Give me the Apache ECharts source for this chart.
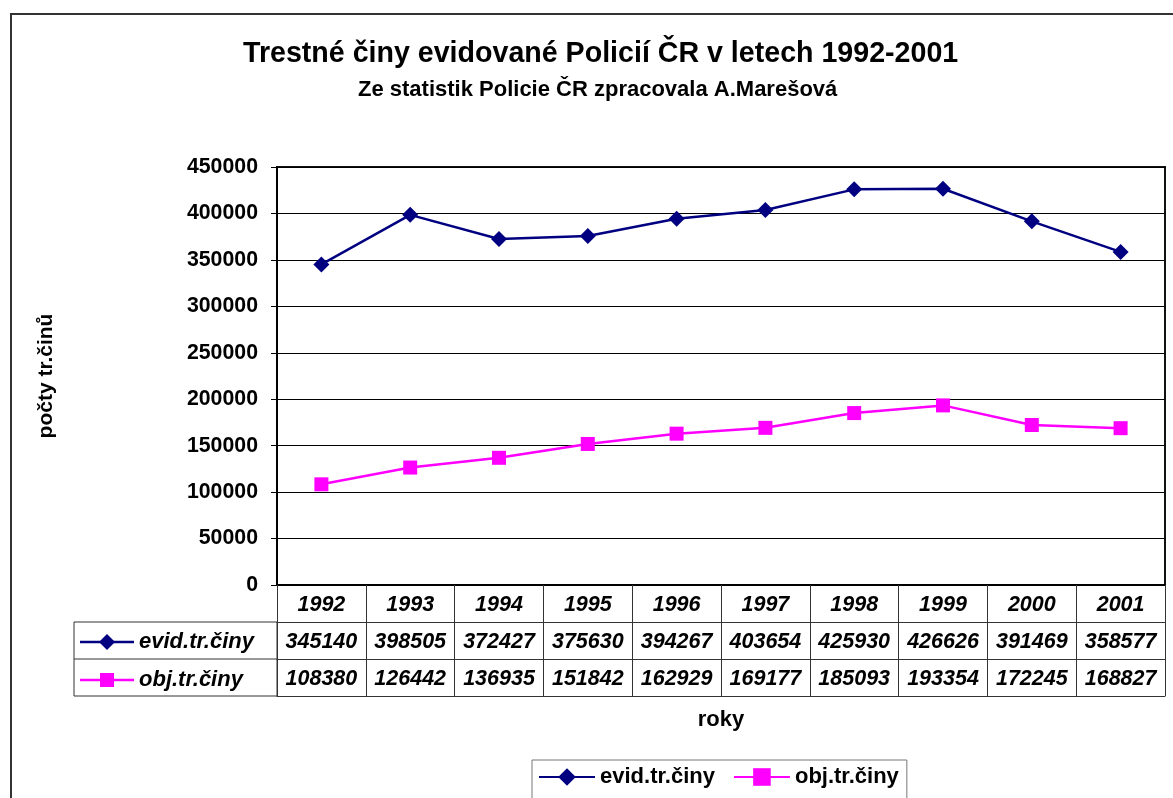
<!DOCTYPE html>
<html>
<head>
<meta charset="utf-8">
<script src="https://cdn.jsdelivr.net/npm/echarts@6/dist/echarts.min.js"></script>
<style>
	html, body { margin: 0; padding: 0; background: #fff; }
	#chart { width: 1173px; height: 798px; }
</style>
</head>
<body>
<div id="chart"></div>
<script>
	// roky a hodnoty z tabulky pod grafem
	const years = ['1992', '1993', '1994', '1995', '1996', '1997', '1998', '1999', '2000', '2001'];
	const evid = [345140, 398505, 372427, 375630, 394267, 403654, 425930, 426626, 391469, 358577];
	const obj = [108380, 126442, 136935, 151842, 162929, 169177, 185093, 193354, 172245, 168827];
	const seriesNames = ['evid.tr.činy', 'obj.tr.činy'];
	const colors = ['#000080', '#ff00ff'];

	const font = '"Liberation Sans", Arial, sans-serif';
	const rowH = 37;

	// jedna osa = jeden radek tabulky
	function tableAxis(data, offset, lineColor, lineWidth) {
		return {
			type: 'category',
			position: 'bottom',
			offset: offset,
			data: data,
			boundaryGap: true,
			axisLine: { show: true, lineStyle: { color: lineColor, width: lineWidth } },
			axisTick: { show: true, inside: false, length: rowH, interval: 0, lineStyle: { color: '#333', width: 1 } },
			axisLabel: {
				show: true, interval: 0, margin: 9,
				fontFamily: font, fontSize: 21.5, fontWeight: 'bold', fontStyle: 'italic', color: '#000'
			},
			splitLine: { show: false }
		};
	}

	const chart = echarts.init(document.getElementById('chart'));

	const option = {
		animation: false,
		title: [{
			text: 'Trestné činy evidované Policií ČR v letech 1992-2001',
			left: 238, top: 35,
			textStyle: { fontFamily: font, fontSize: 28.6, fontWeight: 'bold', color: '#000' }
		}, {
			text: 'Ze statistik Policie ČR zpracovala A.Marešová',
			left: 353, top: 74,
			textStyle: { fontFamily: font, fontSize: 22, fontWeight: 'bold', color: '#000' }
		}],
		legend: {
			left: 532, top: 760,
			data: seriesNames,
			itemWidth: 56, itemHeight: 22, itemGap: 18,
			padding: [6, 8, 20, 6],
			borderColor: '#777', borderWidth: 1,
			textStyle: { fontFamily: font, fontSize: 22, fontWeight: 'bold', color: '#000' }
		},
		grid: {
			left: 277, right: 8, top: 167, bottom: 213,
			show: true, borderColor: '#111', borderWidth: 2
		},
		xAxis: [
			tableAxis(years, 0, '#000', 2),
			tableAxis(evid.map(String), rowH, '#333', 1),
			tableAxis(obj.map(String), rowH * 2, '#333', 1),
			{
				type: 'category', position: 'bottom', offset: rowH * 3,
				data: years,
				axisLine: { show: true, lineStyle: { color: '#333', width: 1 } },
				axisTick: { show: false }, axisLabel: { show: false },
				name: 'roky', nameLocation: 'middle', nameGap: 13,
				nameTextStyle: { fontFamily: font, fontSize: 22, fontWeight: 'bold', color: '#000' }
			}
		],
		yAxis: {
			type: 'value',
			min: 0, max: 450000, interval: 50000,
			axisLine: { show: true, lineStyle: { color: '#000', width: 2 } },
			axisTick: { show: true, length: 6, lineStyle: { color: '#000' } },
			axisLabel: {
				margin: 19, fontFamily: font, fontSize: 21.3, fontWeight: 'bold', color: '#000',
				formatter: v => String(v)
			},
			splitLine: { show: true, lineStyle: { color: '#000', width: 1 } },
			name: 'počty tr.činů', nameLocation: 'middle', nameGap: 220, nameRotate: 90,
			nameTextStyle: { fontFamily: font, fontSize: 21, fontWeight: 'bold', color: '#000' }
		},
		series: [{
			name: seriesNames[0],
			type: 'line',
			data: evid,
			color: colors[0],
			symbol: 'diamond', symbolSize: 16,
			lineStyle: { width: 2.5 }
		}, {
			name: seriesNames[1],
			type: 'line',
			data: obj,
			color: colors[1],
			symbol: 'rect', symbolSize: 14,
			lineStyle: { width: 2.5 }
		}],
		graphic: [
			// vnejsi ramecek
			{ type: 'rect', shape: { x: 11, y: 14, width: 1200, height: 820 }, style: { fill: 'none', stroke: '#333', lineWidth: 2 } },
			// levy sloupec tabulky
			{ type: 'line', shape: { x1: 74, y1: 622, x2: 277, y2: 622 }, style: { stroke: '#333', lineWidth: 1 } },
			{ type: 'line', shape: { x1: 74, y1: 659, x2: 277, y2: 659 }, style: { stroke: '#333', lineWidth: 1 } },
			{ type: 'line', shape: { x1: 74, y1: 696, x2: 277, y2: 696 }, style: { stroke: '#333', lineWidth: 1 } },
			{ type: 'line', shape: { x1: 74, y1: 622, x2: 74, y2: 696 }, style: { stroke: '#333', lineWidth: 1 } },
			{ type: 'line', shape: { x1: 277, y1: 622, x2: 277, y2: 696 }, style: { stroke: '#333', lineWidth: 1 } },
			// klic radku evid
			{ type: 'line', shape: { x1: 80, y1: 642, x2: 134, y2: 642 }, style: { stroke: colors[0], lineWidth: 2.5 } },
			{ type: 'polygon', shape: { points: [[107, 634], [115, 642], [107, 650], [99, 642]] }, style: { fill: colors[0] } },
			{ type: 'text', left: 139, top: 631, style: { text: seriesNames[0], font: 'italic bold 22px ' + font, fill: '#000' } },
			// klic radku obj
			{ type: 'line', shape: { x1: 80, y1: 680, x2: 134, y2: 680 }, style: { stroke: colors[1], lineWidth: 2.5 } },
			{ type: 'rect', shape: { x: 100, y: 673, width: 14, height: 14 }, style: { fill: colors[1] } },
			{ type: 'text', left: 139, top: 669, style: { text: seriesNames[1], font: 'italic bold 22px ' + font, fill: '#000' } }
		]
	};

	chart.setOption(option);
</script>
</body>
</html>
